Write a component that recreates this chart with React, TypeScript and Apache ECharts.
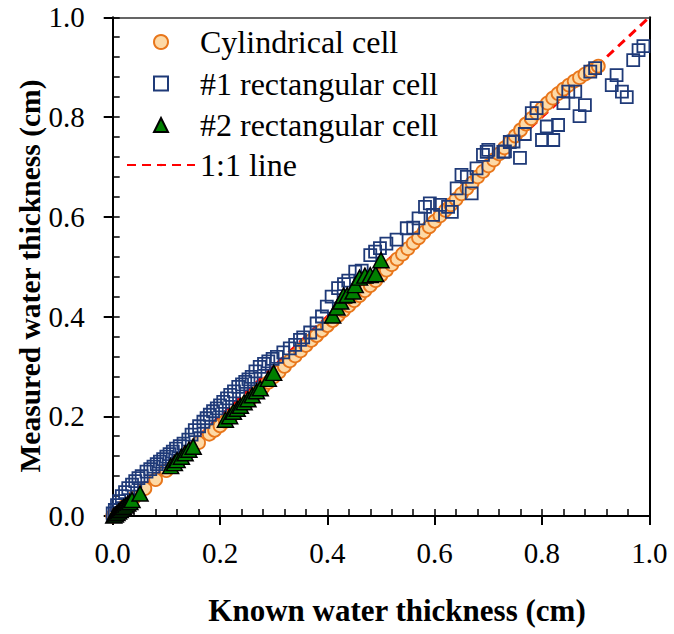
import React, { useEffect, useRef } from "react";
import * as echarts from "echarts";

const FONT = "Liberation Serif";

const seriesNames = ["Cylindrical cell", "#1 rectangular cell", "#2 rectangular cell", "1:1 line"];
const tickLabels = ["0.0", "0.2", "0.4", "0.6", "0.8", "1.0"];
const xTitle = "Known water thickness (cm)";
const yTitle = "Measured water thickness (cm)";

const cylindrical: [number, number][] = [
  [0.0, 0.0], [0.02, 0.018], [0.04, 0.037], [0.06, 0.055], [0.08, 0.073], [0.1, 0.091],
  [0.12, 0.109], [0.14, 0.128], [0.16, 0.147], [0.18, 0.164], [0.19, 0.172], [0.2, 0.181],
  [0.21, 0.19], [0.22, 0.199], [0.23, 0.209], [0.24, 0.219], [0.25, 0.228], [0.26, 0.238],
  [0.27, 0.248], [0.28, 0.258], [0.29, 0.268], [0.3, 0.279], [0.31, 0.289], [0.32, 0.3],
  [0.33, 0.311], [0.34, 0.321], [0.35, 0.331], [0.36, 0.342], [0.37, 0.352], [0.38, 0.362],
  [0.39, 0.372], [0.4, 0.382], [0.41, 0.392], [0.42, 0.402], [0.43, 0.412], [0.44, 0.422],
  [0.45, 0.432], [0.46, 0.442], [0.47, 0.452], [0.48, 0.462], [0.49, 0.472], [0.5, 0.483],
  [0.51, 0.493], [0.52, 0.504], [0.53, 0.515], [0.54, 0.525], [0.55, 0.536], [0.56, 0.547],
  [0.57, 0.558], [0.58, 0.569], [0.59, 0.58], [0.6, 0.591], [0.61, 0.602], [0.62, 0.613],
  [0.63, 0.624], [0.64, 0.635], [0.65, 0.646], [0.66, 0.657], [0.67, 0.668], [0.68, 0.68],
  [0.69, 0.691], [0.7, 0.702], [0.71, 0.714], [0.72, 0.726], [0.73, 0.738], [0.74, 0.75],
  [0.75, 0.762], [0.76, 0.774], [0.77, 0.786], [0.78, 0.797], [0.79, 0.808], [0.8, 0.818],
  [0.81, 0.828], [0.82, 0.838], [0.83, 0.847], [0.84, 0.856], [0.85, 0.864], [0.86, 0.872],
  [0.87, 0.879], [0.88, 0.886], [0.89, 0.892], [0.9, 0.898], [0.905, 0.902],
];

const rect1: [number, number][] = [
  [0.0, 0.005], [0.004, 0.012], [0.008, 0.022], [0.012, 0.03], [0.017, 0.04], [0.023, 0.048],
  [0.029, 0.056], [0.036, 0.063], [0.042, 0.07], [0.048, 0.076], [0.054, 0.08], [0.063, 0.089],
  [0.07, 0.094], [0.076, 0.099], [0.082, 0.104], [0.088, 0.109], [0.094, 0.114], [0.1, 0.119],
  [0.106, 0.124], [0.112, 0.129], [0.118, 0.135], [0.125, 0.14], [0.132, 0.145], [0.141, 0.153],
  [0.147, 0.163], [0.153, 0.172], [0.161, 0.18], [0.169, 0.189], [0.175, 0.196], [0.181, 0.203],
  [0.187, 0.21], [0.194, 0.216], [0.2, 0.222], [0.206, 0.229], [0.213, 0.236], [0.219, 0.243],
  [0.226, 0.25], [0.234, 0.259], [0.241, 0.264], [0.247, 0.269], [0.253, 0.274], [0.259, 0.279],
  [0.266, 0.29], [0.274, 0.299], [0.282, 0.305], [0.29, 0.31], [0.298, 0.315], [0.306, 0.319],
  [0.318, 0.328], [0.33, 0.336], [0.34, 0.343], [0.349, 0.353], [0.355, 0.358], [0.368, 0.368],
  [0.38, 0.386], [0.39, 0.4], [0.399, 0.42], [0.408, 0.44], [0.42, 0.457], [0.431, 0.465],
  [0.439, 0.472], [0.452, 0.49], [0.464, 0.492], [0.48, 0.523], [0.489, 0.53], [0.498, 0.537],
  [0.51, 0.546], [0.529, 0.554], [0.548, 0.577], [0.56, 0.578], [0.57, 0.597], [0.582, 0.62],
  [0.591, 0.627], [0.597, 0.604], [0.61, 0.624], [0.625, 0.62], [0.632, 0.61], [0.641, 0.657],
  [0.65, 0.684], [0.66, 0.68], [0.669, 0.647], [0.678, 0.697], [0.69, 0.724], [0.697, 0.73],
  [0.7, 0.734], [0.728, 0.73], [0.731, 0.731], [0.74, 0.75], [0.747, 0.751], [0.759, 0.718],
  [0.768, 0.766], [0.781, 0.808], [0.79, 0.818], [0.8, 0.754], [0.809, 0.781], [0.821, 0.754],
  [0.83, 0.784], [0.84, 0.828], [0.849, 0.851], [0.862, 0.851], [0.87, 0.802], [0.88, 0.824],
  [0.89, 0.891], [0.899, 0.898], [0.93, 0.864], [0.939, 0.884], [0.949, 0.851], [0.958, 0.84],
  [0.97, 0.914], [0.98, 0.934], [0.989, 0.942],
];

const rect2: [number, number][] = [
  [0.002, 0.001], [0.005, 0.003], [0.008, 0.006], [0.011, 0.009], [0.014, 0.012], [0.017, 0.015],
  [0.02, 0.018], [0.024, 0.021], [0.028, 0.025], [0.032, 0.028], [0.036, 0.032], [0.051, 0.045],
  [0.108, 0.1], [0.115, 0.106], [0.12, 0.112], [0.128, 0.119], [0.135, 0.126], [0.142, 0.133],
  [0.15, 0.139], [0.21, 0.193], [0.218, 0.2], [0.225, 0.209], [0.232, 0.215], [0.238, 0.221],
  [0.245, 0.228], [0.252, 0.234], [0.26, 0.242], [0.268, 0.25], [0.275, 0.256], [0.29, 0.275],
  [0.3, 0.287], [0.41, 0.402], [0.418, 0.418], [0.425, 0.43], [0.43, 0.442], [0.437, 0.443],
  [0.448, 0.45], [0.452, 0.463], [0.46, 0.478], [0.47, 0.482], [0.48, 0.483], [0.49, 0.485],
  [0.5, 0.513],
];

const oneToOne: [number, number][] = [[0, 0], [1, 1]];

const GRID = { left: 112.7, top: 17.3, width: 536.6, height: 498.7 };

export default function App() {
  const ref = useRef<HTMLDivElement>(null);
  useEffect(() => {
    if (!ref.current) return;
    const chart = echarts.init(ref.current, null, { renderer: "svg" });
    const axisLineStyle = { color: "#000", width: 2 };
    const fmt = (v: number) => tickLabels[Math.round(v / 0.2)] ?? "";
    const mainX = {
      type: "value", min: 0, max: 1, interval: 0.2, position: "bottom",
      axisLine: { show: true, onZero: false, lineStyle: axisLineStyle },
      axisTick: { show: true, inside: false, length: 9, lineStyle: { color: "#000", width: 2 } },
      axisLabel: { formatter: fmt, fontSize: 29, color: "#000", fontFamily: FONT, margin: 22 },
      splitLine: { show: false },
    };
    const minorX = {
      type: "value", min: 0, max: 1, interval: 0.04, position: "bottom",
      axisLine: { show: false, onZero: false },
      axisTick: { show: true, inside: true, length: 7, lineStyle: { color: "#000", width: 1.5 } },
      axisLabel: { show: false }, splitLine: { show: false },
    };
    const frameX = {
      type: "value", min: 0, max: 1, position: "top",
      axisLine: { show: true, onZero: false, lineStyle: { color: "#333", width: 1.5 } },
      axisTick: { show: false }, axisLabel: { show: false }, splitLine: { show: false },
    };
    const mainY = {
      type: "value", min: 0, max: 1, interval: 0.2, position: "left",
      axisLine: { show: true, onZero: false, lineStyle: axisLineStyle },
      axisTick: { show: true, inside: false, length: 9, lineStyle: { color: "#000", width: 2 } },
      axisLabel: { formatter: fmt, fontSize: 29, color: "#000", fontFamily: FONT, margin: 28 },
      splitLine: { show: false },
    };
    const minorY = {
      type: "value", min: 0, max: 1, interval: 0.04, position: "left",
      axisLine: { show: false, onZero: false },
      axisTick: { show: true, inside: true, length: 7, lineStyle: { color: "#000", width: 1.5 } },
      axisLabel: { show: false }, splitLine: { show: false },
    };
    const frameY = {
      type: "value", min: 0, max: 1, position: "right",
      axisLine: { show: true, onZero: false, lineStyle: axisLineStyle },
      axisTick: { show: false }, axisLabel: { show: false }, splitLine: { show: false },
    };
    const legendText = { fontSize: 32, fontFamily: FONT, color: "#000", lineHeight: 30 };
    chart.setOption({
      animation: false,
      backgroundColor: "#fff",
      grid: GRID,
      xAxis: [mainX, minorX, frameX],
      yAxis: [mainY, minorY, frameY],
      legend: [
        {
          orient: "vertical", left: 153, top: 26, padding: 0,
          itemWidth: 14, itemHeight: 14, itemGap: 9.5,
          textStyle: { ...legendText, padding: [0, 0, 0, 27] },
          data: seriesNames.slice(0, 3),
          selectedMode: false,
        },
        {
          orient: "vertical", left: 126, top: 149, padding: 0,
          itemWidth: 68, itemHeight: 3, itemGap: 0,
          textStyle: { ...legendText },
          data: seriesNames.slice(3),
          selectedMode: false,
        },
      ],
      series: [
        {
          name: seriesNames[3], type: "line", data: oneToOne, symbol: "none", showSymbol: false,
          lineStyle: { color: "#FF0000", width: 3, type: [9, 6] },
          itemStyle: { color: "#FF0000" }, z: 1,
        },
        {
          name: seriesNames[0], type: "scatter", data: cylindrical, symbol: "circle", symbolSize: 13,
          itemStyle: { color: "#FDD9A6", borderColor: "#E8761B", borderWidth: 1.8, opacity: 1 },
        },
        {
          name: seriesNames[1], type: "scatter", data: rect1, symbol: "rect", symbolSize: 12,
          itemStyle: { color: "rgba(255,255,255,0)", borderColor: "#1F3A78", borderWidth: 1.8, opacity: 1 },
        },
        {
          name: seriesNames[2], type: "scatter", data: rect2, symbol: "triangle", symbolSize: [16, 15],
          itemStyle: { color: "#008000", borderColor: "#000", borderWidth: 1.5, opacity: 1 },
        },
      ],
      graphic: [
        {
          type: "text", x: 397, y: 610,
          style: { text: xTitle, fontSize: 31, fontWeight: "bold", fontFamily: FONT, fill: "#000", align: "center", verticalAlign: "middle" },
        },
        {
          type: "text", x: 30, y: 276, rotation: Math.PI / 2,
          style: { text: yTitle, fontSize: 29.5, fontWeight: "bold", fontFamily: FONT, fill: "#000", align: "center", verticalAlign: "middle" },
        },
      ],
    });
    return () => chart.dispose();
  }, []);
  return (
    <div
      ref={ref}
      style={{ position: "fixed", left: 0, top: 0, width: 674, height: 634, background: "#fff" }}
    />
  );
}
